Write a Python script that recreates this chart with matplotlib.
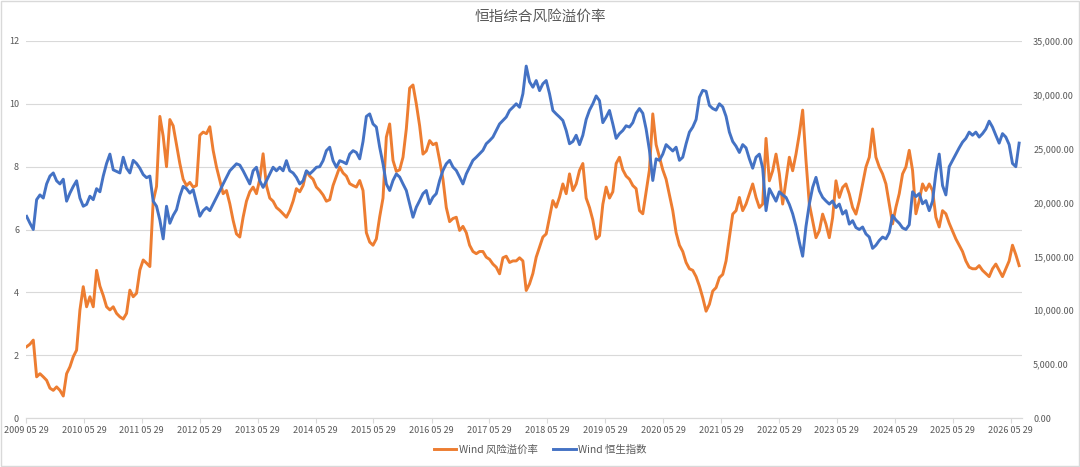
import matplotlib
matplotlib.use('Agg')
import matplotlib.pyplot as plt
import matplotlib.dates as mdates
import matplotlib.ticker as mticker
from matplotlib.lines import Line2D
from matplotlib.patches import Rectangle
import pandas as pd

# readings taken every ~3 weeks from the reference picture
start_date = "2009-06-02"
step = "21D"

premium = [
    2.27, 2.35, 2.48, 1.31, 1.41, 1.31, 1.20, 0.95, 0.88, 0.99,
    0.88, 0.70, 1.41, 1.63, 1.95, 2.16, 3.44, 4.18, 3.54, 3.86,
    3.54, 4.70, 4.20, 3.90, 3.54, 3.44, 3.54, 3.33, 3.22, 3.15,
    3.33, 4.07, 3.86, 3.97, 4.71, 5.03, 4.93, 4.82, 6.90, 7.37,
    9.60, 8.97, 8.00, 9.50, 9.30, 8.70, 8.10, 7.60, 7.40, 7.50,
    7.35, 7.40, 9.00, 9.10, 9.05, 9.27, 8.52, 7.99, 7.56, 7.14,
    7.24, 6.82, 6.29, 5.86, 5.76, 6.39, 6.90, 7.20, 7.35, 7.14,
    7.60, 8.41, 7.40, 7.00, 6.90, 6.70, 6.61, 6.50, 6.39, 6.60,
    6.90, 7.30, 7.20, 7.40, 7.85, 7.70, 7.60, 7.35, 7.24, 7.10,
    6.90, 6.95, 7.40, 7.70, 7.99, 7.80, 7.70, 7.46, 7.40, 7.35,
    7.56, 7.24, 5.90, 5.60, 5.50, 5.70, 6.40, 7.00, 8.94, 9.36,
    8.20, 7.85, 7.90, 8.30, 9.20, 10.50, 10.60, 10.00, 9.30, 8.40,
    8.50, 8.83, 8.70, 8.75, 8.20, 7.60, 6.70, 6.25, 6.35, 6.39,
    5.97, 6.10, 5.90, 5.50, 5.30, 5.23, 5.30, 5.30, 5.12, 5.05,
    4.90, 4.80, 4.59, 5.10, 5.15, 4.95, 5.00, 5.00, 5.10, 5.00,
    4.06, 4.27, 4.60, 5.12, 5.44, 5.76, 5.86, 6.39, 6.92, 6.71,
    7.03, 7.45, 7.14, 7.77, 7.24, 7.45, 7.88, 8.10, 7.00, 6.70,
    6.30, 5.70, 5.80, 6.80, 7.35, 7.00, 7.20, 8.10, 8.30, 7.90,
    7.70, 7.60, 7.40, 7.30, 6.60, 6.50, 7.20, 7.90, 9.68, 8.70,
    8.30, 7.90, 7.60, 7.10, 6.60, 5.90, 5.50, 5.30, 4.95, 4.75,
    4.70, 4.50, 4.20, 3.83, 3.40, 3.62, 4.04, 4.15, 4.47, 4.57,
    5.00, 5.74, 6.49, 6.60, 7.02, 6.60, 6.81, 7.13, 7.45, 7.02,
    6.70, 6.81, 8.90, 7.55, 7.87, 8.40, 7.77, 6.81, 7.55, 8.30,
    7.87, 8.40, 9.04, 9.80, 8.20, 6.81, 6.28, 5.74, 5.96, 6.49,
    6.17, 5.74, 6.38, 7.55, 7.02, 7.34, 7.45, 7.13, 6.70, 6.49,
    6.91, 7.45, 7.99, 8.30, 9.20, 8.30, 7.99, 7.77, 7.45, 6.82,
    6.18, 6.71, 7.14, 7.77, 7.99, 8.52, 7.88, 6.50, 6.92, 7.45,
    7.24, 7.45, 7.24, 6.39, 6.08, 6.60, 6.50, 6.20, 5.95, 5.70,
    5.50, 5.30, 5.00, 4.80, 4.75, 4.75, 4.85, 4.70, 4.60, 4.50,
    4.75, 4.90, 4.70, 4.50, 4.75, 5.00, 5.50, 5.20, 4.85,
]

hsi = [
    18720, 18080, 17500, 20270, 20710, 20420, 21730, 22460, 22750, 22020,
    21730, 22170, 20130, 20880, 21500, 22020, 20420, 19660, 19830, 20590,
    20270, 21290, 21000, 22460, 23630, 24500, 23040, 22900, 22750, 24210,
    23190, 22750, 23920, 23630, 23190, 22600, 22310, 22460, 20130, 19660,
    18380, 16630, 19660, 18080, 18810, 19340, 20590, 21500, 21290, 20880,
    21200, 19950, 18730, 19250, 19540, 19250, 19860, 20480, 21090, 21730,
    22340, 22950, 23280, 23600, 23480, 22950, 22340, 21730, 22950, 23280,
    22020, 21410, 22020, 22660, 23280, 22950, 23280, 22950, 23890, 22950,
    22750, 22340, 21730, 22020, 22950, 22660, 22950, 23280, 23330, 23890,
    24820, 25140, 23890, 23280, 23890, 23770, 23600, 24500, 24820, 24650,
    24060, 25670, 28000, 28230, 27300, 27010, 25140, 23600, 21730, 21120,
    22050, 22660, 22370, 21730, 21120, 19890, 18640, 19570, 20180, 20830,
    21120, 19890, 20500, 20830, 22050, 22980, 23600, 23920, 23300, 22980,
    22370, 21730, 22660, 23300, 23920, 24210, 24530, 24850, 25460, 25750,
    26080, 26690, 27300, 27620, 27940, 28550, 28850, 29170, 28850, 30100,
    32670, 31210, 30710, 31330, 30390, 31030, 31330, 30100, 28550, 28230,
    27940, 27620, 26690, 25460, 25670, 26250, 25380, 26250, 27710, 28580,
    29170, 29900, 29460, 27420, 27940, 28550, 27300, 25960, 26400, 26690,
    27130, 27010, 27420, 28290, 28730, 28290, 26830, 24850, 22050, 24060,
    23920, 24500, 25380, 25080, 24790, 25140, 23920, 24210, 25460, 26540,
    27010, 27710, 29780, 30420, 30330, 29020, 28730, 28580, 29170, 28880,
    28000, 26540, 25670, 25230, 24650, 25380, 25080, 24060, 23190, 24210,
    24500, 23190, 19250, 21290, 20710, 20130, 21000, 20710, 20480, 19830,
    18960, 17790, 16330, 15020, 17790, 19860, 21410, 22340, 21090, 20480,
    20150, 19860, 20150, 19540, 19860, 18930, 19250, 18000, 18320, 17680,
    17500, 17730, 17090, 16800, 15750, 16040, 16480, 16800, 16630, 17210,
    18810, 18380, 18080, 17650, 17500, 17940, 21000, 20560, 20830, 19890,
    20180, 19250, 20130, 22750, 24500, 21580, 20710, 23330, 23920, 24500,
    25080, 25610, 25960, 26540, 26250, 26540, 26080, 26400, 26830, 27560,
    27010, 26250, 25520, 26400, 26080, 25380, 23630, 23330, 25520,
]

tick_years = list(range(2009, 2027))
left_ticks = [0, 2, 4, 6, 8, 10, 12]
right_ticks = [0, 5000, 10000, 15000, 20000, 25000, 30000, 35000]

assert len(premium) == len(hsi)
dates = pd.date_range(start_date, periods=len(premium), freq=step)

plt.rcParams['font.family'] = ['Noto Sans CJK SC', 'DejaVu Sans']
ORANGE = '#ED7D31'
BLUE = '#4472C4'
GREY = '#595959'
GRID = '#D9D9D9'

fig = plt.figure(figsize=(10.8, 4.67), dpi=100)
fig.patch.set_facecolor('white')
ax = fig.add_axes([26 / 1080, 1 - 418 / 467, 996 / 1080, 377 / 467])
ax2 = ax.twinx()

ax.plot(dates, premium, color=ORANGE, linewidth=2.1, solid_joinstyle='round')
ax2.plot(dates, hsi, color=BLUE, linewidth=2.1, solid_joinstyle='round')

ax.set_xlim(pd.Timestamp("2009-05-29"), pd.Timestamp("2026-08-08"))
ax.set_ylim(0, 12)
ax2.set_ylim(0, 35000)

ax.set_yticks(left_ticks)
ax2.set_yticks(right_ticks)
ax2.yaxis.set_major_formatter(mticker.FuncFormatter(lambda v, p: f"{v:,.2f}"))

ax.set_xticks([pd.Timestamp(f"{y}-05-29") for y in tick_years])
ax.xaxis.set_major_formatter(mdates.DateFormatter("%Y %m %d"))

ax.grid(True, axis='y', color=GRID, linewidth=0.8)
ax.set_axisbelow(True)

for a in (ax, ax2):
    for s in ('top', 'left', 'right'):
        a.spines[s].set_visible(False)
    a.spines['bottom'].set_color(GRID)
    a.spines['bottom'].set_linewidth(0.8)

ax.tick_params(axis='y', length=0, pad=5, labelsize=6.5, labelcolor=GREY)
ax2.tick_params(axis='y', length=0, pad=8, labelsize=6.5, labelcolor=GREY)
ax.tick_params(axis='x', length=3.5, width=0.8, color=GRID, pad=2,
               labelsize=6.5, labelcolor=GREY)

fig.text(0.5, 1 - 17 / 467, "恒指综合风险溢价率", ha='center', va='center',
         fontsize=10.5, color=GREY)

handles = [Line2D([], [], color=ORANGE, linewidth=2.1),
           Line2D([], [], color=BLUE, linewidth=2.1)]
fig.legend(handles, ["Wind 风险溢价率", "Wind 恒生指数"], loc='center',
           bbox_to_anchor=(0.5, 1 - 450 / 467), ncol=2, frameon=False,
           fontsize=7.5, labelcolor=GREY, handlelength=2.2, columnspacing=1.5,
           handletextpad=0.2)

fig.add_artist(Rectangle((0.001, 0.002), 0.998, 0.996, transform=fig.transFigure,
                         fill=False, edgecolor=GRID, linewidth=1))

fig.savefig("out.png", dpi=100, facecolor='white')
plt.close(fig)
